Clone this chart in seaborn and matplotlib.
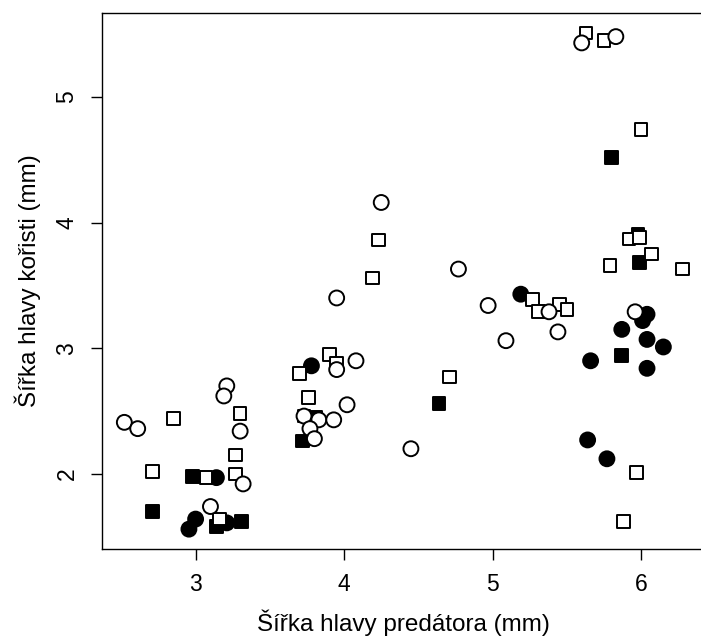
"""Šířka hlavy kořisti vs. predátora, R-like scatter redone in seaborn."""

import matplotlib
matplotlib.use("Agg")
import matplotlib.pyplot as plt
import numpy as np
import pandas as pd
import seaborn as sns

# values (mm)
open_circle_x = [2.52, 2.61, 3.21, 3.19, 3.30, 3.32, 3.10, 4.08, 3.95, 4.02, 3.73, 3.83,
                 3.93, 3.77, 3.80, 4.45, 4.25, 4.77, 3.95, 5.60, 5.83, 4.97, 5.38, 5.44,
                 5.09, 5.96]
open_circle_y = [2.41, 2.36, 2.70, 2.62, 2.34, 1.92, 1.74, 2.90, 2.83, 2.55, 2.46, 2.43,
                 2.43, 2.36, 2.28, 2.20, 4.16, 3.63, 3.40, 5.43, 5.48, 3.34, 3.29, 3.13,
                 3.06, 3.29]

filled_circle_x = [3.14, 3.00, 2.955, 3.21, 3.78, 5.19, 6.04, 6.01, 5.87, 6.04, 6.15,
                   5.66, 6.04, 5.64, 5.77]
filled_circle_y = [1.97, 1.64, 1.56, 1.61, 2.86, 3.43, 3.27, 3.22, 3.15, 3.07, 3.01,
                   2.90, 2.84, 2.27, 2.12]

open_square_x = [2.85, 3.30, 3.27, 2.71, 3.07, 3.27, 3.16, 3.70, 3.90, 3.95, 3.76, 3.73,
                 4.23, 4.19, 4.71, 5.63, 5.75, 6.00, 5.92, 5.99, 6.07, 5.79, 6.28, 5.27,
                 5.31, 5.45, 5.50, 5.97, 5.88]
open_square_y = [2.44, 2.48, 2.15, 2.02, 1.97, 2.00, 1.64, 2.80, 2.95, 2.88, 2.61, 2.46,
                 3.86, 3.56, 2.77, 5.51, 5.45, 4.74, 3.87, 3.88, 3.75, 3.66, 3.63, 3.39,
                 3.29, 3.35, 3.31, 2.01, 1.62]

filled_square_x = [2.98, 2.71, 3.14, 3.31, 3.81, 3.72, 4.64, 5.80, 5.98, 5.99, 5.87]
filled_square_y = [1.98, 1.70, 1.58, 1.62, 2.45, 2.26, 2.56, 4.52, 3.91, 3.68, 2.94]

x_ticks = [3, 4, 5, 6]
y_ticks = [2, 3, 4, 5]


def _frame() -> pd.DataFrame:
    parts = [
        ("filled_circle", filled_circle_x, filled_circle_y),
        ("filled_square", filled_square_x, filled_square_y),
        ("open_square", open_square_x, open_square_y),
        ("open_circle", open_circle_x, open_circle_y),
    ]
    rows = []
    for name, xs, ys in parts:
        for xv, yv in zip(xs, ys):
            rows.append({"predator": xv, "prey": yv, "group": name})
    return pd.DataFrame(rows)


def main() -> None:
    sns.set_theme(style="white")
    plt.rcParams["font.family"] = ["Liberation Sans", "DejaVu Sans"]
    for key in ("text.color", "axes.labelcolor", "xtick.color", "ytick.color"):
        plt.rcParams[key] = "black"

    df = _frame()

    fig = plt.figure(figsize=(7.01, 6.44), dpi=100)
    ax = fig.add_axes([102 / 701, 95 / 644, 603 / 701, 536 / 644])

    sns.scatterplot(
        data=df,
        x="predator",
        y="prey",
        hue="group",
        style="group",
        size="group",
        palette={"filled_circle": "black", "filled_square": "black",
                 "open_square": "white", "open_circle": "white"},
        markers={"filled_circle": "o", "filled_square": "s",
                 "open_square": "s", "open_circle": "o"},
        sizes={"filled_circle": 115, "filled_square": 82,
               "open_square": 82, "open_circle": 115},
        edgecolor="black",
        linewidth=1.4,
        legend=False,
        ax=ax,
        zorder=3,
    )

    # R-style 4 % padding around the data range
    xr = df["predator"].max() - df["predator"].min()
    yr = df["prey"].max() - df["prey"].min()
    ax.set_xlim(df["predator"].min() - 0.04 * xr, df["predator"].max() + 0.04 * xr)
    ax.set_ylim(df["prey"].min() - 0.04 * yr, df["prey"].max() + 0.04 * yr)

    ax.set_xticks(x_ticks)
    ax.set_yticks(y_ticks)
    ax.set_xticklabels([str(t) for t in x_ticks])
    ax.set_yticklabels([str(t) for t in y_ticks], rotation=90, va="center")
    ax.tick_params(axis="both", direction="out", length=8, width=1.0,
                   color="black", labelcolor="black", labelsize=16.5, pad=9,
                   bottom=True, left=True)

    for sp in ax.spines.values():
        sp.set_color("black")
        sp.set_linewidth(1.0)

    ax.set_xlabel("Šířka hlavy predátora (mm)", fontsize=17.5, labelpad=10)
    ax.set_ylabel("Šířka hlavy kořisti (mm)", fontsize=17.5, labelpad=10)

    fig.savefig("out.png", dpi=100)
    plt.close(fig)


if __name__ == "__main__":
    main()
